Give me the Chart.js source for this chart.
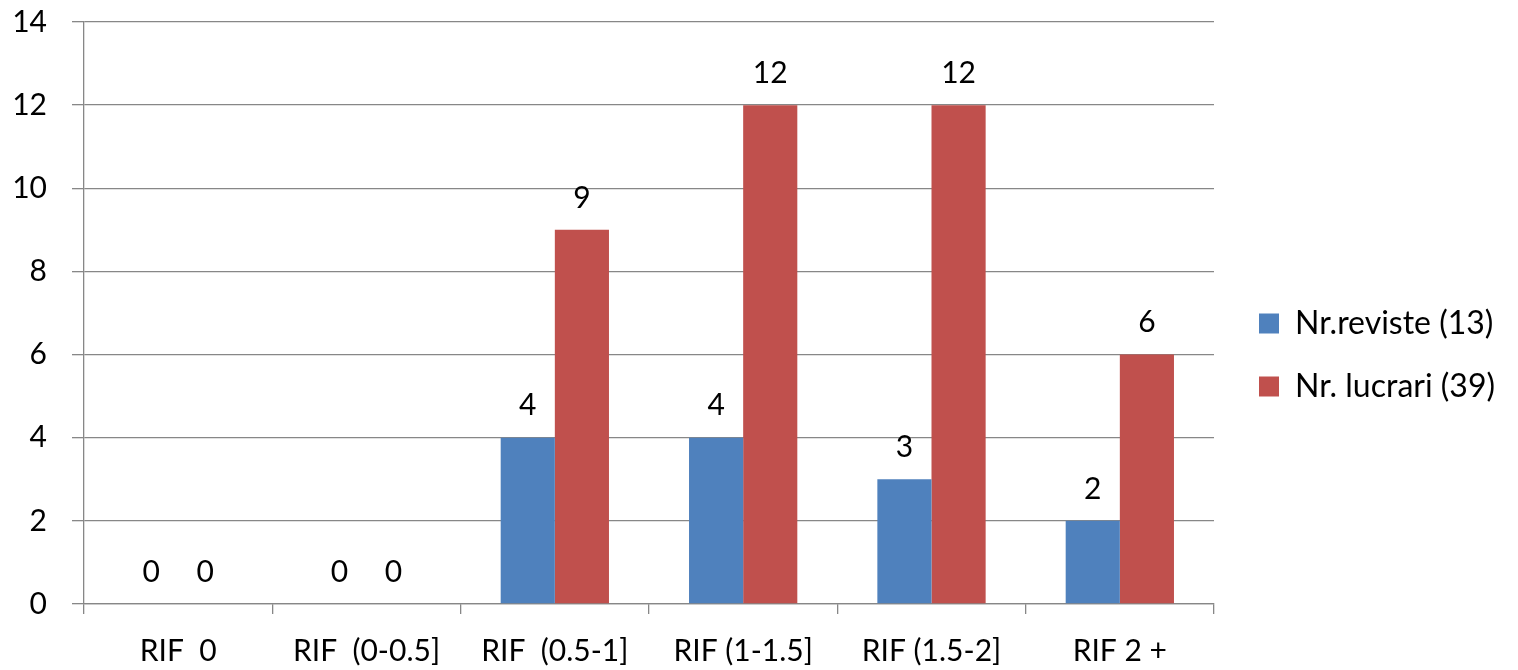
<script src="https://cdn.jsdelivr.net/npm/chart.js"></script>
<style>
  body { margin: 0; background: #fff; }
  #wrap { width: 1518px; height: 670px; }
</style>
<div id="wrap">
  <canvas id="myChart" width="1518" height="670"></canvas>
</div>
<script>
    const categories = ['RIF  0', 'RIF  (0-0.5]', 'RIF  (0.5-1]', 'RIF (1-1.5]', 'RIF (1.5-2]', 'RIF 2 +'];
    const reviste = [0, 0, 4, 4, 3, 2];
    const lucrari = [0, 0, 9, 12, 12, 6];
    const yTicks = [0, 2, 4, 6, 8, 10, 12, 14];

    const fontFamily = 'Lato, "Open Sans", sans-serif';
    const gridColor = '#878787';

    // numbers above every bar, zeros included
    const barValues = {
        id: 'barValues',
        afterDatasetsDraw(chart) {
            const ctx = chart.ctx;
            ctx.save();
            ctx.fillStyle = '#000';
            ctx.font = '30px ' + fontFamily;
            ctx.textAlign = 'center';
            ctx.textBaseline = 'middle';
            chart.data.datasets.forEach((ds, i) => {
                chart.getDatasetMeta(i).data.forEach((bar, j) => {
                    ctx.fillText(ds.data[j], bar.x, bar.y - 32);
                });
            });
            ctx.restore();
        }
    };

    // legend column is fixed wide, items sit a bit away from the plot
    const legendSpace = {
        id: 'legendSpace',
        afterInit(chart) {
            const fit = chart.legend.fit;
            chart.legend.fit = function () {
                fit.call(this);
                this.width = 304;
            };
        },
        afterLayout(chart) {
            chart.legend.left += 14;
        }
    };

    const config = {
        type: 'bar',
        data: {
            labels: categories,
            datasets: [{
                label: 'Nr.reviste (13)',
                data: reviste,
                backgroundColor: '#4F81BD',
                categoryPercentage: 0.575,
                barPercentage: 1.0
            }, {
                label: 'Nr. lucrari (39)',
                data: lucrari,
                backgroundColor: '#C0504D',
                categoryPercentage: 0.575,
                barPercentage: 1.0
            }]
        },
        options: {
            responsive: false,
            animation: false,
            layout: {
                autoPadding: false,
                padding: { left: 0, top: 22, right: 0, bottom: -18 }
            },
            plugins: {
                tooltip: { enabled: false },
                legend: {
                    position: 'right',
                    labels: {
                        boxWidth: 20,
                        boxHeight: 20,
                        padding: 31,
                        color: '#000',
                        font: { family: fontFamily, size: 32 }
                    }
                }
            },
            scales: {
                x: {
                    grid: {
                        drawOnChartArea: false,
                        drawTicks: true,
                        tickLength: 10,
                        color: gridColor,
                        lineWidth: 1.3
                    },
                    border: { color: gridColor, width: 1.3 },
                    ticks: {
                        color: '#000',
                        maxRotation: 0,
                        padding: 19,
                        font: { family: fontFamily, size: 30 }
                    }
                },
                y: {
                    min: 0,
                    max: 14,
                    afterBuildTicks(axis) {
                        axis.ticks = yTicks.map(v => ({ value: v }));
                    },
                    afterFit(axis) {
                        axis.width = 84;
                        axis.paddingTop = 0;
                        axis.paddingBottom = 0;
                    },
                    grid: {
                        color: gridColor,
                        lineWidth: 1.3,
                        tickLength: 12
                    },
                    border: { color: gridColor, width: 1.3 },
                    ticks: {
                        color: '#000',
                        padding: 25,
                        font: { family: fontFamily, size: 30 }
                    }
                }
            }
        },
        plugins: [barValues, legendSpace]
    };

    const myChart = new Chart(document.getElementById('myChart'), config);
</script>
